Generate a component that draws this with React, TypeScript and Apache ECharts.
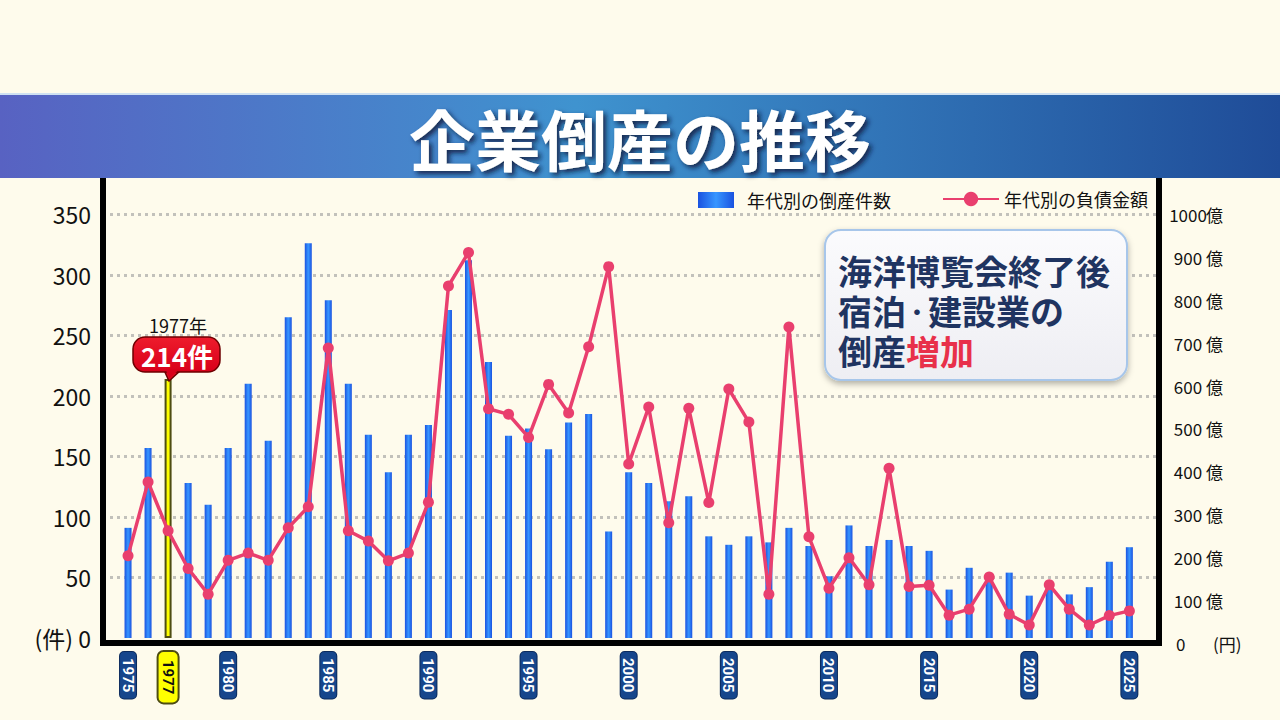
import React, { useEffect, useRef } from 'react';
import * as echarts from 'echarts';

const FONT = '"Noto Sans CJK JP", "Noto Sans", sans-serif';

const years = [
  1975, 1976, 1977, 1978, 1979, 1980, 1981, 1982, 1983, 1984,
  1985, 1986, 1987, 1988, 1989, 1990, 1991, 1992, 1993, 1994,
  1995, 1996, 1997, 1998, 1999, 2000, 2001, 2002, 2003, 2004,
  2005, 2006, 2007, 2008, 2009, 2010, 2011, 2012, 2013, 2014,
  2015, 2016, 2017, 2018, 2019, 2020, 2021, 2022, 2023, 2024,
  2025,
];

// 年代別の倒産件数 (件)
const bankruptcies = [
  91, 157, 214, 128, 110, 157, 210, 163, 265, 326,
  279, 210, 168, 137, 168, 176, 271, 312, 228, 167,
  173, 156, 178, 185, 88, 137, 128, 113, 117, 84,
  77, 84, 79, 91, 76, 51, 93, 76, 81, 76,
  72, 40, 58, 48, 54, 35, 41, 36, 42, 63,
  75,
];

// 年代別の負債金額 (億円)
const debts = [
  204, 376, 262, 174, 114, 193, 210, 193, 269, 318,
  689, 262, 238, 192, 210, 329, 834, 912, 547, 534,
  480, 604, 537, 692, 879, 418, 551, 281, 548, 328,
  593, 516, 114, 738, 248, 128, 199, 136, 408, 132,
  135, 65, 79, 154, 67, 42, 136, 79, 42, 64,
  75,
];

const yearLabels = [1975, 1977, 1980, 1985, 1990, 1995, 2000, 2005, 2010, 2015, 2020, 2025];
const highlightYear = 1977;
const highlightCount = 214;

const leftTicks = [0, 50, 100, 150, 200, 250, 300, 350];
const rightTicks = [0, 100, 200, 300, 400, 500, 600, 700, 800, 900, 1000];

const barName = '年代別の倒産件数';
const lineName = '年代別の負債金額';
const titleText = '企業倒産の推移';
const noteLine1 = '海洋博覧会終了後';
const noteLine2 = '宿泊{d|・}建設業の';
const noteLine3 = '倒産{r|増加}';

export default function App() {
  const ref = useRef<HTMLDivElement>(null);

  useEffect(() => {
    if (!ref.current) return;
    const chart = echarts.init(ref.current, null, { renderer: 'svg' });

    const barGradient = new echarts.graphic.LinearGradient(0, 0, 1, 0, [
      { offset: 0, color: '#1a52e0' },
      { offset: 0.5, color: '#3796ff' },
      { offset: 1, color: '#1a52e0' },
    ]);

    const barData = years.map((y, i) =>
      y === highlightYear
        ? {
            value: [y, bankruptcies[i]],
            itemStyle: { color: '#ffff00', borderColor: '#4e4d12', borderWidth: 2 },
          }
        : { value: [y, bankruptcies[i]] }
    );
    const lineData = years.map((y, i) => [y, debts[i]]);

    const xMin = 1973.75;
    const xMax = 2026.48;

    const noteStyle = (text: string, y: number) => ({
      type: 'text',
      z: 61,
      style: {
        text,
        x: 838,
        y,
        align: 'left',
        verticalAlign: 'middle',
        fill: '#1f3461',
        fontSize: 34,
        lineHeight: 36,
        fontWeight: 'bold',
        fontFamily: FONT,
        rich: {
          r: { fill: '#e8304a', fontSize: 34, lineHeight: 36, fontWeight: 'bold', fontFamily: FONT },
          d: { fill: '#1f3461', fontSize: 22, lineHeight: 36, fontWeight: 'bold', fontFamily: FONT },
        },
      },
    });

    const option: any = {
      animation: false,
      backgroundColor: '#fefbec',
      textStyle: { fontFamily: FONT },
      grid: [
        { left: 103, right: 121, top: 178, bottom: 82 },
        { left: 103, right: 121, top: 178, bottom: 77 },
      ],
      legend: [
        {
          data: [{ name: barName, icon: 'rect' }],
          left: 693,
          top: 186,
          itemWidth: 36,
          itemHeight: 16,
          selectedMode: false,
          textStyle: { fontSize: 18, color: '#111', fontFamily: FONT, padding: [0, 0, 0, 8] },
        },
        {
          data: [{ name: lineName }],
          left: 937,
          top: 185,
          itemWidth: 56,
          itemHeight: 18,
          selectedMode: false,
          textStyle: { fontSize: 18, color: '#111', fontFamily: FONT, padding: [0, 0, 0, 0] },
        },
      ],
      xAxis: [
        {
          type: 'value',
          gridIndex: 0,
          min: xMin,
          max: xMax,
          show: false,
          splitLine: { show: false },
        },
        {
          type: 'value',
          gridIndex: 1,
          min: xMin,
          max: xMax,
          axisLine: { show: true, onZero: false, lineStyle: { color: '#000', width: 6, cap: 'square' } },
          axisTick: { show: false },
          splitLine: { show: false },
          axisLabel: {
            customValues: yearLabels,
            rotate: -90,
            margin: 9,
            formatter: (v: number) => (v === highlightYear ? `{y|${v}}` : `{b|${v}}`),
            rich: {
              b: {
                color: '#ffffff',
                backgroundColor: '#16468c',
                borderColor: '#0b2a5c',
                borderWidth: 1,
                borderRadius: 4,
                padding: [1, 6, 0, 6],
                fontSize: 15,
                fontWeight: 'bold',
                lineHeight: 13,
                fontFamily: 'Roboto',
              },
              y: {
                color: '#111',
                backgroundColor: '#ffff00',
                borderColor: '#4e4d12',
                borderWidth: 2,
                borderRadius: 5,
                padding: [2, 8, 2, 8],
                fontSize: 15,
                fontWeight: 'bold',
                lineHeight: 13,
                fontFamily: 'Roboto',
              },
            },
          },
        },
      ],
      yAxis: [
        {
          type: 'value',
          gridIndex: 0,
          position: 'left',
          min: 0,
          max: 380,
          interval: 50,
          axisLine: { show: false },
          axisTick: { show: false },
          axisLabel: {
            margin: 12,
            fontSize: 23,
            color: '#111',
            fontFamily: FONT,
            formatter: (v: number) =>
              leftTicks.includes(v) ? (v === 0 ? '(件) 0' : String(v)) : '',
          },
          splitLine: {
            show: true,
            showMinLine: false,
            showMaxLine: false,
            lineStyle: { color: '#c2c1bb', width: 3, type: [3, 4] },
          },
        },
        {
          type: 'value',
          gridIndex: 1,
          position: 'right',
          min: 0,
          max: 1086,
          interval: 100,
          axisLine: { show: true, lineStyle: { color: '#000', width: 6 } },
          axisTick: { show: false },
          splitLine: { show: false },
          axisLabel: {
            margin: 11,
            fontSize: 17,
            color: '#111',
            fontFamily: FONT,
            formatter: (v: number) =>
              rightTicks.includes(v) ? (v === 0 ? '{z|0}{p|(円)}' : `{n|${v}}{u|億}`) : '',
            rich: {
              n: { fontSize: 17, color: '#111', width: 36, align: 'right', fontFamily: FONT },
              u: { fontSize: 17, color: '#111', fontFamily: FONT },
              z: { fontSize: 17, color: '#111', width: 37, padding: [0, 0, 0, 6], fontFamily: FONT },
              p: { fontSize: 17, color: '#111', fontFamily: FONT },
            },
          },
        },
        {
          type: 'value',
          gridIndex: 1,
          position: 'left',
          min: 0,
          max: 1086,
          axisLine: { show: true, lineStyle: { color: '#000', width: 6 } },
          axisTick: { show: false },
          axisLabel: { show: false },
          splitLine: { show: false },
        },
      ],
      series: [
        {
          name: barName,
          type: 'bar',
          xAxisIndex: 0,
          yAxisIndex: 0,
          barWidth: 7,
          itemStyle: { color: barGradient },
          data: barData,
          z: 2,
        },
        {
          name: lineName,
          type: 'line',
          xAxisIndex: 1,
          yAxisIndex: 1,
          symbol: 'circle',
          symbolSize: 11,
          lineStyle: { color: '#e93f6e', width: 3.5 },
          itemStyle: { color: '#e93f6e' },
          data: lineData,
          z: 3,
        },
      ],
      graphic: [
        {
          type: 'rect',
          z: 50,
          shape: { x: 0, y: 93, width: 1280, height: 85 },
          style: {
            fill: new echarts.graphic.LinearGradient(0, 0, 1, 0, [
              { offset: 0, color: '#5862c2' },
              { offset: 0.45, color: '#3f93cf' },
              { offset: 1, color: '#1f4c98' },
            ]),
          },
        },
        {
          type: 'rect',
          z: 51,
          shape: { x: 0, y: 93, width: 1280, height: 2 },
          style: { fill: '#cfe1f2' },
        },
        {
          type: 'text',
          z: 52,
          style: {
            text: titleText,
            x: 640,
            y: 137,
            align: 'center',
            verticalAlign: 'middle',
            fill: '#ffffff',
            fontSize: 66,
            fontWeight: 'bold',
            fontFamily: FONT,
            textShadowColor: 'rgba(10,20,60,0.85)',
            textShadowBlur: 5,
            textShadowOffsetX: 3,
            textShadowOffsetY: 3,
          },
        },
        // annotation box
        {
          type: 'rect',
          z: 60,
          shape: { x: 825, y: 230, width: 302, height: 150, r: 16 },
          style: {
            fill: new echarts.graphic.LinearGradient(0, 0, 0, 1, [
              { offset: 0, color: '#fbfbfd' },
              { offset: 1, color: '#eeeef3' },
            ]),
            stroke: '#a7c6ea',
            lineWidth: 2,
            shadowBlur: 6,
            shadowColor: 'rgba(0,0,0,0.3)',
            shadowOffsetY: 3,
          },
        },
        noteStyle(noteLine1, 270),
        noteStyle(noteLine2, 310),
        noteStyle(noteLine3, 350),
        // 1977 callout
        {
          type: 'text',
          z: 60,
          style: {
            text: `${highlightYear}年`,
            x: 178,
            y: 325,
            align: 'center',
            verticalAlign: 'middle',
            fill: '#111',
            fontSize: 18,
            fontFamily: FONT,
          },
        },
        {
          type: 'polygon',
          z: 60,
          shape: { points: [[164, 370], [181, 370], [169, 381]] },
          style: { fill: '#e50c1f', stroke: '#6d0000', lineWidth: 1.5 },
        },
        {
          type: 'rect',
          z: 61,
          shape: { x: 133, y: 337, width: 87, height: 35, r: 12 },
          style: {
            fill: new echarts.graphic.LinearGradient(0, 0, 0, 1, [
              { offset: 0, color: '#ee1c2c' },
              { offset: 1, color: '#d8001a' },
            ]),
            stroke: '#6d0000',
            lineWidth: 1.5,
          },
        },
        {
          type: 'polygon',
          z: 62,
          shape: { points: [[165.5, 369], [179.5, 369], [169.5, 378.5]] },
          style: { fill: '#d8001a' },
        },
        {
          type: 'text',
          z: 63,
          style: {
            text: `${highlightCount}件`,
            x: 177,
            y: 355,
            align: 'center',
            verticalAlign: 'middle',
            fill: '#ffffff',
            fontSize: 26,
            fontWeight: 'bold',
            fontFamily: FONT,
          },
        },
      ],
    };

    chart.setOption(option);
    return () => chart.dispose();
  }, []);

  return (
    <div
      ref={ref}
      style={{ position: 'fixed', left: 0, top: 0, width: 1280, height: 720, background: '#fefbec' }}
    />
  );
}
